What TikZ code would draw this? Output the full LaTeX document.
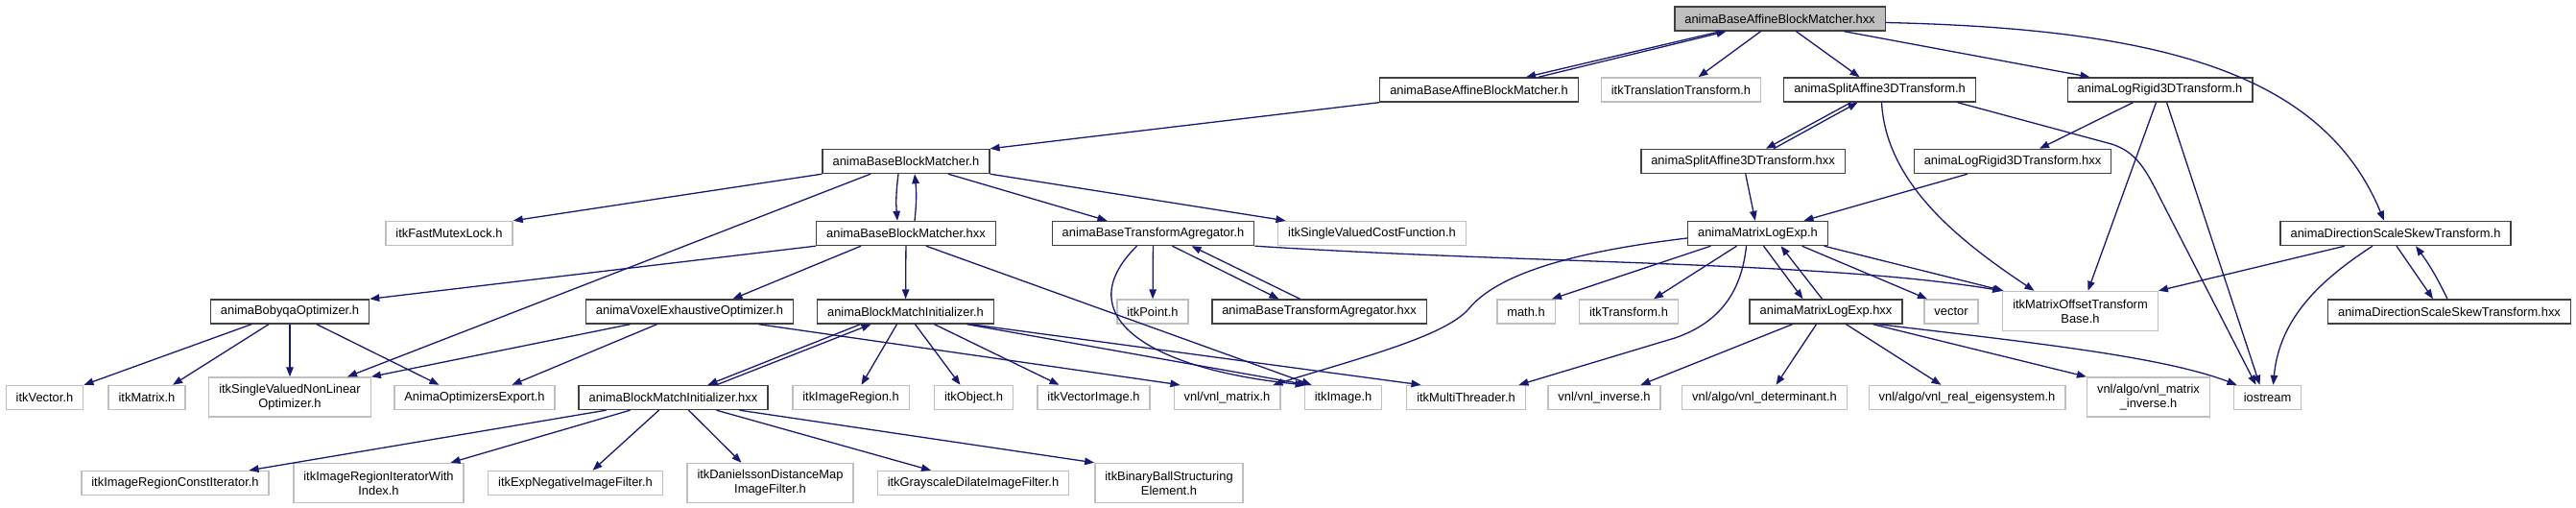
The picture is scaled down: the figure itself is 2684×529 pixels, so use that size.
\documentclass[tikz,border=0pt]{standalone}
\usepackage{fontspec}
\setmainfont{Liberation Sans}
\usepackage{tikz}
\usetikzlibrary{
    arrows.meta
}
\definecolor{edgeblue}{HTML}{191970}
\definecolor{boxdark}{HTML}{404040}
\definecolor{boxlight}{HTML}{BFBFBF}
\tikzset{
  file/.style={draw=boxdark, line width=1.4pt, inner xsep=10.5pt, inner ysep=0pt,
    minimum height=25pt, align=center, font=\fontsize{12.9}{15}\selectfont},
  ext/.style={file, draw=boxlight},
  ext2/.style={ext, minimum height=41pt},
  topfile/.style={file, fill=boxlight},
  dep/.style={draw=edgeblue, line width=1.3pt, -{Triangle[length=10pt,width=7.5pt]}}
}
\begin{document}
\begin{tikzpicture}[x=1pt,y=-1pt]
\useasboundingbox (0,0) rectangle (2684,529);

\node[topfile] (BAMhxx) at (1854.5,19.5) {animaBaseAffineBlockMatcher.hxx};

\node[file] (BAMh) at (1541,93.5) {animaBaseAffineBlockMatcher.h};
\node[ext] (TransT) at (1751.5,93.5) {itkTranslationTransform.h};
\node[file] (SAh) at (1958.5,93.5) {animaSplitAffine3DTransform.h};
\node[file] (LRh) at (2250.5,93.5) {animaLogRigid3DTransform.h};

\node[file] (BBMh) at (944,168) {animaBaseBlockMatcher.h};
\node[file] (SAhxx) at (1816,168) {animaSplitAffine3DTransform.hxx};
\node[file] (LRhxx) at (2097,168) {animaLogRigid3DTransform.hxx};

\node[ext] (Mutex) at (468,243) {itkFastMutexLock.h};
\node[file] (BBMhxx) at (944,243) {animaBaseBlockMatcher.hxx};
\node[file] (BTAh) at (1201.5,243) {animaBaseTransformAgregator.h};
\node[ext] (CostF) at (1429.5,243) {itkSingleValuedCostFunction.h};
\node[file] (MLEh) at (1831.5,243) {animaMatrixLogExp.h};
\node[file] (DSSh) at (2496,243) {animaDirectionScaleSkewTransform.h};

\node[file] (Boby) at (302,324.5) {animaBobyqaOptimizer.h};
\node[file] (Voxel) at (718.5,324.5) {animaVoxelExhaustiveOptimizer.h};
\node[file] (BMIh) at (943.5,324.5) {animaBlockMatchInitializer.h};
\node[ext] (Point) at (1201,324.5) {itkPoint.h};
\node[file] (BTAhxx) at (1374.5,324.5) {animaBaseTransformAgregator.hxx};
\node[ext] (Math) at (1590,324.5) {math.h};
\node[ext] (Transf) at (1697,324.5) {itkTransform.h};
\node[file] (MLEhxx) at (1902.5,324.5) {animaMatrixLogExp.hxx};
\node[ext] (Vector) at (2033,324.5) {vector};
\node[ext2] (MOTB) at (2167.5,324) {itkMatrixOffsetTransform\\Base.h};
\node[file] (DSShxx) at (2552,324.5) {animaDirectionScaleSkewTransform.hxx};

\node[ext] (Vec) at (46.5,414) {itkVector.h};
\node[ext] (Mat) at (153,414) {itkMatrix.h};
\node[ext2] (SVNLO) at (302,413.5) {itkSingleValuedNonLinear\\Optimizer.h};
\node[ext] (OptExp) at (494.5,414) {AnimaOptimizersExport.h};
\node[file] (BMIhxx) at (701.5,414) {animaBlockMatchInitializer.hxx};
\node[ext] (Region) at (886.5,414) {itkImageRegion.h};
\node[ext] (Object) at (1014.5,414) {itkObject.h};
\node[ext] (VecImg) at (1139.5,414) {itkVectorImage.h};
\node[ext] (VnlMat) at (1278.5,414) {vnl/vnl\_matrix.h};
\node[ext] (Image) at (1399.5,414) {itkImage.h};
\node[ext] (MThr) at (1527.5,414) {itkMultiThreader.h};
\node[ext] (VnlInv) at (1671.5,414) {vnl/vnl\_inverse.h};
\node[ext] (VnlDet) at (1838.5,414) {vnl/algo/vnl\_determinant.h};
\node[ext] (VnlEig) at (2049.5,414) {vnl/algo/vnl\_real\_eigensystem.h};
\node[ext2] (VnlMInv) at (2238.5,413.5) {vnl/algo/vnl\_matrix\\\_inverse.h};
\node[ext] (IOStr) at (2362.5,414) {iostream};

\node[ext] (RCIt) at (182.5,503) {itkImageRegionConstIterator.h};
\node[ext2] (RIWI) at (394.5,503) {itkImageRegionIteratorWith\\Index.h};
\node[ext] (ExpNeg) at (599.5,503) {itkExpNegativeImageFilter.h};
\node[ext2] (Dan) at (802.5,503) {itkDanielssonDistanceMap\\ImageFilter.h};
\node[ext] (GDil) at (1014,503) {itkGrayscaleDilateImageFilter.h};
\node[ext2] (BBall) at (1218,503) {itkBinaryBallStructuring\\Element.h};

\draw[dep] ([xshift=-62pt]BAMhxx.south) -- ([xshift=49pt]BAMh.north);
\draw[dep] ([xshift=62pt]BAMh.north) -- ([xshift=-56pt]BAMhxx.south);
\draw[dep] ([xshift=-20pt]BAMhxx.south) -- ([xshift=18pt]TransT.north);
\draw[dep] ([xshift=17pt]BAMhxx.south) -- ([xshift=-21pt]SAh.north);
\draw[dep] ([xshift=67pt]BAMhxx.south) -- ([xshift=-73pt]LRh.north);
\draw[dep] ([yshift=-4pt]BAMhxx.east) .. controls (2250,30) and (2420,75) .. ([xshift=-12pt]DSSh.north);

\draw[dep] (BAMh.south west) -- (BBMh.north east);
\draw[dep] (BBMh.south west) -- (Mutex.north east);
\draw[dep] ([xshift=-8pt]BBMh.south) to[bend right=6] ([xshift=-9pt]BBMhxx.north);
\draw[dep] ([xshift=9pt]BBMhxx.north) to[bend right=6] ([xshift=9pt]BBMh.south);
\draw[dep] ([xshift=44pt]BBMh.south) -- ([xshift=-48pt]BTAh.north);
\draw[dep] (BBMh.south east) -- ([xshift=-90pt]CostF.north);
\draw[dep] ([xshift=-37pt]BBMh.south) -- ([xshift=60pt]SVNLO.north);

\draw[dep] (BBMhxx.south west) -- (Boby.north east);
\draw[dep] ([xshift=-47pt]BBMhxx.south) -- ([xshift=45pt]Voxel.north);
\draw[dep] (BBMhxx) -- (BMIh);
\draw[dep] ([xshift=21pt]BBMhxx.south) -- ([xshift=-33pt]Image.north);

\draw[dep] (BTAh) -- (Point);
\draw[dep] ([xshift=20pt]BTAh.south) -- ([xshift=-42pt]BTAhxx.north);
\draw[dep] ([xshift=-20pt]BTAhxx.north) -- ([xshift=40pt]BTAh.south);
\draw[dep] (BTAh.south east) .. controls (1600,275) and (1900,272) .. (MOTB.north west);
\draw[dep] ([xshift=-17pt]BTAh.south) .. controls (1110,330) and (1200,385) .. ([xshift=-40pt]Image.north);

\draw[dep] ([yshift=-5pt]MLEh.west) .. controls (1640,262) and (1560,285) .. (1530,322)
  .. controls (1505,350) and (1420,372) .. ([xshift=48pt]VnlMat.north);
\draw[dep] ([xshift=-12pt]MLEh.south) .. controls (1815,300) and (1795,335) .. (1745,352) -- ([xshift=55pt]MThr.north);
\draw[dep] ([xshift=-49pt]MLEh.south) -- ([xshift=27pt]Math.north);
\draw[dep] ([xshift=-22pt]MLEh.south) -- ([xshift=26pt]Transf.north);
\draw[dep] ([xshift=6pt]MLEh.south) -- ([xshift=-24pt]MLEhxx.north);
\draw[dep] ([xshift=-4pt]MLEhxx.north) -- ([xshift=24pt]MLEh.south);
\draw[dep] ([xshift=46pt]MLEh.south) -- ([xshift=-25pt]Vector.north);
\draw[dep] ([xshift=69pt]MLEh.south) -- ([xshift=-80pt]MOTB.north);

\draw[dep] ([xshift=-35pt]MLEhxx.south) -- ([xshift=38pt]VnlInv.north);
\draw[dep] ([xshift=-10pt]MLEhxx.south) -- ([xshift=12pt]VnlDet.north);
\draw[dep] ([xshift=21pt]MLEhxx.south) -- ([xshift=-27pt]VnlEig.north);
\draw[dep] ([xshift=49pt]MLEhxx.south) -- (VnlMInv.north west);
\draw[dep] ([xshift=55pt]MLEhxx.south) .. controls (2100,355) and (2250,370) .. ([xshift=-32pt]IOStr.north);

\draw[dep] ([xshift=-30pt]SAh.south) -- ([xshift=24pt]SAhxx.north);
\draw[dep] ([xshift=32pt]SAhxx.north) -- ([xshift=-23pt]SAh.south);
\draw[dep] ([xshift=2pt]SAh.south) .. controls (1965,190) and (2040,250) .. ([xshift=-48pt]MOTB.north);
\draw[dep] ([xshift=81pt]SAh.south) -- (2200,150) .. controls (2225,158) and (2235,175) .. (2250,205) -- ([xshift=-12pt]IOStr.north);
\draw[dep] (SAhxx) -- (MLEh);

\draw[dep] ([xshift=-28pt]LRh.south) -- ([xshift=28pt]LRhxx.north);
\draw[dep] ([xshift=-4pt]LRh.south) -- ([xshift=8pt]MOTB.north);
\draw[dep] ([xshift=7pt]LRh.south) -- ([xshift=-8pt]IOStr.north);
\draw[dep] ([xshift=-47pt]LRhxx.south) -- ([xshift=48pt]MLEh.north);

\draw[dep] ([xshift=-53pt]DSSh.south) -- (MOTB.north east);
\draw[dep] ([xshift=-24pt]DSSh.south) .. controls (2420,290) and (2375,330) .. ([xshift=6pt]IOStr.north);
\draw[dep] ([xshift=1pt]DSSh.south) -- ([xshift=-17pt]DSShxx.north);
\draw[dep] ([xshift=-2pt]DSShxx.north) to[bend right=5] ([xshift=21pt]DSSh.south);

\draw[dep] ([xshift=-47pt]BMIh.south) -- ([xshift=36pt]BMIhxx.north);
\draw[dep] ([xshift=45pt]BMIhxx.north) -- ([xshift=-36pt]BMIh.south);
\draw[dep] ([xshift=-9pt]BMIh.south) -- ([xshift=11pt]Region.north);
\draw[dep] ([xshift=10pt]BMIh.south) -- ([xshift=-14pt]Object.north);
\draw[dep] ([xshift=30pt]BMIh.south) -- ([xshift=-36pt]VecImg.north);
\draw[dep] ([xshift=64pt]BMIh.south) -- ([xshift=-37pt]Image.north);
\draw[dep] ([xshift=68pt]BMIh.south) -- ([xshift=-47pt]MThr.north);

\draw[dep] ([xshift=-70pt]BMIhxx.south) -- ([xshift=77pt]RCIt.north);
\draw[dep] ([xshift=-45pt]BMIhxx.south) -- ([xshift=75pt]RIWI.north);
\draw[dep] ([xshift=-15pt]BMIhxx.south) -- ([xshift=18pt]ExpNeg.north);
\draw[dep] ([xshift=16pt]BMIhxx.south) -- ([xshift=-30pt]Dan.north);
\draw[dep] ([xshift=45pt]BMIhxx.south) -- ([xshift=-44pt]GDil.north);
\draw[dep] ([xshift=69pt]BMIhxx.south) -- (BBall.north west);

\draw[dep] ([xshift=-40pt]Boby.south) -- (Vec.north east);
\draw[dep] ([xshift=-22pt]Boby.south) -- ([xshift=27pt]Mat.north);
\draw[dep] (Boby) -- (SVNLO);
\draw[dep] ([xshift=28pt]Boby.south) -- ([xshift=-37pt]OptExp.north);

\draw[dep] ([xshift=-34pt]Voxel.south) -- ([xshift=39pt]OptExp.north);
\draw[dep] ([xshift=-62pt]Voxel.south) -- (SVNLO.north east);
\draw[dep] ([xshift=72pt]Voxel.south) -- ([xshift=7pt]VnlMat.north west);
\end{tikzpicture}
\end{document}
